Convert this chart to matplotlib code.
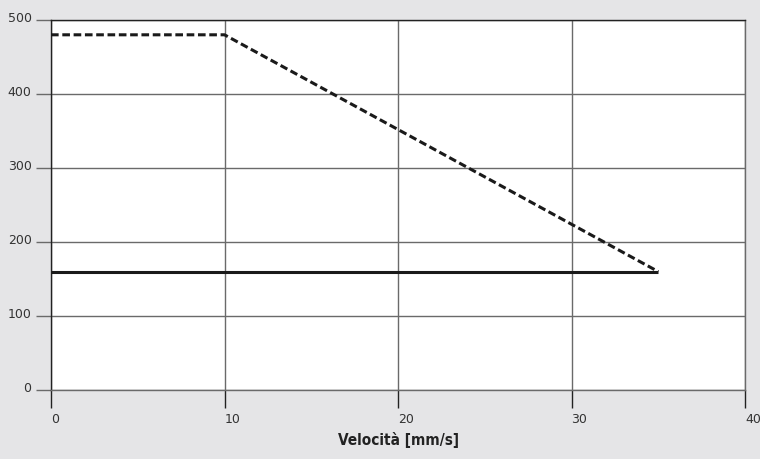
import numpy as np
import matplotlib
matplotlib.use('Agg')
import matplotlib.pyplot as plt
import matplotlib.transforms as mtransforms

# data
x_ticks = [0, 10, 20, 30, 40]
y_ticks = [0, 100, 200, 300, 400, 500]
dashed_x = [0, 10, 35]
dashed_y = [480, 480, 160]
solid_x = [0, 35]
solid_y = [160, 160]
x_label = 'Velocità [mm/s]'

bg = '#e5e5e7'
grid_col = '#6a6a6a'

fig = plt.figure(figsize=(7.6, 4.6), dpi=100)
fig.patch.set_facecolor(bg)
ax = fig.add_axes([51 / 760, 69 / 460, 694 / 760, 370 / 460])
ax.set_facecolor('white')

ax.plot(solid_x, solid_y, color='#1a1a1a', lw=2.2, solid_capstyle='butt', zorder=3)
ax.plot(dashed_x, dashed_y, color='#1a1a1a', lw=2.2, dashes=(2.5, 1.2), zorder=3)

ax.set_xlim(0, 40)
ax.set_ylim(0, 500)
ax.set_xticks(x_ticks)
ax.set_yticks(y_ticks)
ax.grid(True, color=grid_col, lw=1.0)
ax.set_axisbelow(True)

for side in ['right', 'bottom']:
    ax.spines[side].set_color(grid_col)
    ax.spines[side].set_linewidth(1.0)
for side in ['left', 'top']:
    ax.spines[side].set_color('#222222')
    ax.spines[side].set_linewidth(1.0)

ax.tick_params(axis='y', direction='out', length=11, width=1.0, color=grid_col,
               labelsize=9, labelcolor='#333333', pad=3)
ax.tick_params(axis='x', direction='out', length=13, width=1.0, color='#222222',
               labelsize=9, labelcolor='#333333', pad=3)

# labels sit just above / right of their lines
for lab in ax.get_yticklabels():
    lab.set_transform(lab.get_transform() + mtransforms.ScaledTranslation(0, 3 / 72, fig.dpi_scale_trans))
for lab in ax.get_xticklabels():
    lab.set_horizontalalignment('left')

ax.set_xlabel(x_label, fontsize=11, fontweight='bold', color='#222222',
              fontstretch='condensed', labelpad=4)

fig.savefig('out.png', dpi=100, facecolor=bg)
